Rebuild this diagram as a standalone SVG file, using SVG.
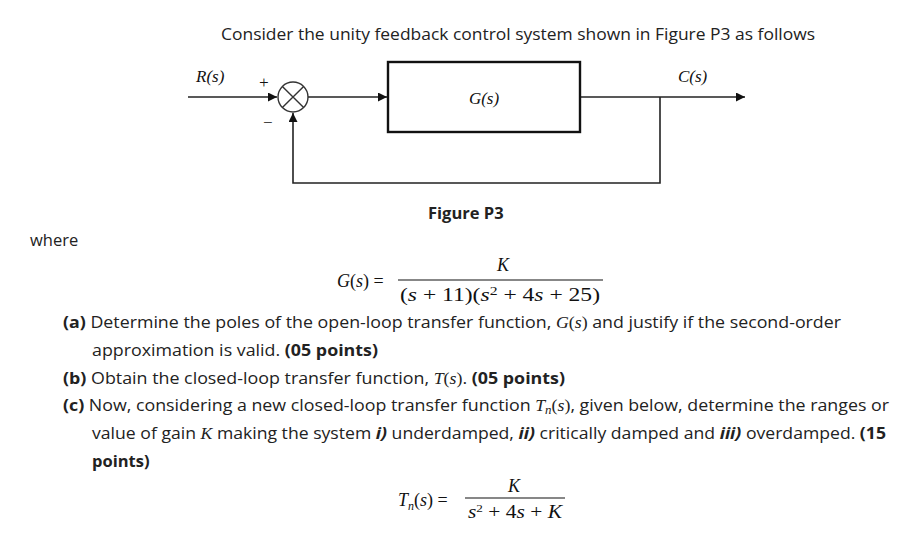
<svg xmlns="http://www.w3.org/2000/svg" width="910" height="536" viewBox="0 0 910 536">
<style>
.t{font-family:"Open Sans","Liberation Sans",sans-serif;font-size:16.5px;fill:#222}
.m{font-family:"Liberation Serif",serif;font-size:18px;fill:#111}
.d{font-family:"Liberation Serif",serif;font-size:17px;font-style:italic;fill:#111}
.b{font-weight:bold}
.i{font-style:italic}
.ln{stroke:#222;stroke-width:1.6;fill:none}
</style>
<defs><marker id="a" viewBox="0 0 10 10" refX="10" refY="5" markerWidth="13" markerHeight="9" markerUnits="userSpaceOnUse" orient="auto"><path d="M0,0L10,5L0,10z" fill="#111"/></marker></defs>
<rect width="910" height="536" fill="#fff"/>
<text class="t" x="221" y="40" textLength="594" lengthAdjust="spacingAndGlyphs">Consider the unity feedback control system shown in Figure P3 as follows</text>
<g id="connectors">
<line class="ln" x1="188" y1="97" x2="277" y2="97" marker-end="url(#a)"/>
<line class="ln" x1="308" y1="97" x2="387" y2="97" marker-end="url(#a)"/>
<polyline class="ln" points="580,97 745,97" marker-end="url(#a)"/>
<polyline class="ln" points="660,97 660,183 293,183 293,113" marker-end="url(#a)"/>
</g>
<g id="sum"><circle cx="293" cy="97" r="15" fill="#fff" stroke="#333" stroke-width="1.4"/>
<path d="M282.4,86.4L303.6,107.6M303.6,86.4L282.4,107.6" stroke="#333" stroke-width="1.4"/>
<text class="d" x="258" y="88" font-style="normal" font-size="15">+</text>
<text class="d" x="262" y="128" font-style="normal" font-size="15">−</text></g>
<g id="G"><rect x="388" y="62" width="192" height="70" fill="#fff" stroke="#111" stroke-width="2.4"/>
<text class="d" x="484" y="104" text-anchor="middle" font-style="normal">G(s)</text></g>
<text class="d" x="196" y="82" font-style="normal">R(s)</text>
<text class="d" x="678" y="82" font-style="normal">C(s)</text>
<text class="t b" x="428" y="219">Figure P3</text>
<text class="t" x="30" y="246">where</text>
<g id="eq1">
<text class="m i" x="337" y="287">G<tspan font-style="normal">(</tspan>s<tspan font-style="normal">) =</tspan></text>
<text class="m i" x="503" y="271" text-anchor="middle">K</text>
<line x1="398" y1="280" x2="603" y2="280" stroke="#111" stroke-width="1.2"/>
<text class="m" x="400" y="301" textLength="200" lengthAdjust="spacingAndGlyphs">(<tspan font-style="italic">s</tspan> + 11)(<tspan font-style="italic">s</tspan><tspan font-size="12" dy="-6">2</tspan><tspan dy="6"> + 4</tspan><tspan font-style="italic">s</tspan> + 25)</text>
</g>
<text class="t" x="63" y="328" textLength="778" lengthAdjust="spacingAndGlyphs"><tspan class="b">(a)</tspan> Determine the poles of the open-loop transfer function, <tspan font-family="Liberation Serif" font-style="italic">G</tspan><tspan font-family="Liberation Serif">(</tspan><tspan font-family="Liberation Serif" font-style="italic">s</tspan><tspan font-family="Liberation Serif">)</tspan> and justify if the second-order</text>
<text class="t" x="92" y="356" textLength="286" lengthAdjust="spacingAndGlyphs">approximation is valid. <tspan class="b">(05 points)</tspan></text>
<text class="t" x="63" y="384" textLength="502" lengthAdjust="spacingAndGlyphs"><tspan class="b">(b)</tspan> Obtain the closed-loop transfer function, <tspan font-family="Liberation Serif" font-style="italic">T</tspan><tspan font-family="Liberation Serif">(</tspan><tspan font-family="Liberation Serif" font-style="italic">s</tspan><tspan font-family="Liberation Serif">)</tspan>. <tspan class="b">(05 points)</tspan></text>
<text class="t" x="63" y="411" textLength="826" lengthAdjust="spacingAndGlyphs"><tspan class="b">(c)</tspan> Now, considering a new closed-loop transfer function <tspan font-family="Liberation Serif" font-style="italic">T<tspan font-size="12" dy="3">n</tspan></tspan><tspan font-family="Liberation Serif" dy="-3">(</tspan><tspan font-family="Liberation Serif" font-style="italic">s</tspan><tspan font-family="Liberation Serif">)</tspan>, given below, determine the ranges or</text>
<text class="t" x="92" y="439" textLength="794" lengthAdjust="spacingAndGlyphs">value of gain <tspan font-family="Liberation Serif" font-style="italic">K</tspan> making the system <tspan class="b i">i)</tspan> underdamped, <tspan class="b i">ii)</tspan> critically damped and <tspan class="b i">iii)</tspan> overdamped. <tspan class="b">(15</tspan></text>
<text class="t b" x="92" y="467">points)</text>
<g id="eq2">
<text class="m i" x="398" y="506" font-size="17">T<tspan font-size="12" dy="4">n</tspan><tspan font-style="normal" dy="-4">(</tspan>s<tspan font-style="normal">) =</tspan></text>
<text class="m i" x="514" y="492" text-anchor="middle" font-size="16">K</text>
<line x1="465" y1="498" x2="565" y2="498" stroke="#111" stroke-width="1.2"/>
<text class="m" x="468" y="518" font-size="16" textLength="94" lengthAdjust="spacingAndGlyphs"><tspan font-style="italic">s</tspan><tspan font-size="11" dy="-6">2</tspan><tspan dy="6"> + 4</tspan><tspan font-style="italic">s</tspan> + <tspan font-style="italic">K</tspan></text>
</g>
</svg>
